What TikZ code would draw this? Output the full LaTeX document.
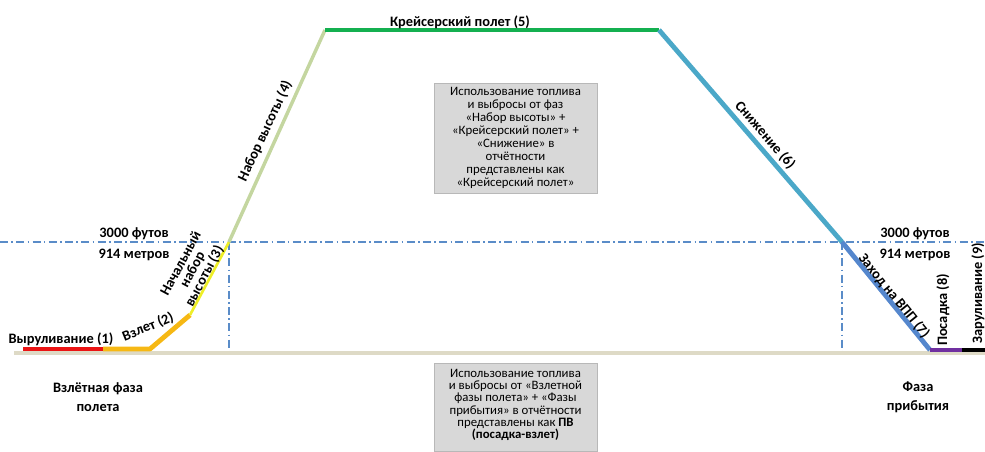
\documentclass[tikz,border=0pt]{standalone}
\usepackage{fontspec}
\setmainfont{Carlito}
\definecolor{taxired}{RGB}{235,20,20}
\definecolor{takeofforange}{RGB}{246,184,20}
\definecolor{climbyellow}{RGB}{238,238,40}
\definecolor{climbgreen}{RGB}{196,214,160}
\definecolor{cruisegreen}{RGB}{20,176,80}
\definecolor{descentblue}{RGB}{75,168,200}
\definecolor{approachblue}{RGB}{85,135,205}
\definecolor{landpurple}{RGB}{112,48,160}
\definecolor{groundbeige}{RGB}{222,218,198}
\definecolor{levelblue}{RGB}{90,140,200}
\definecolor{boxgray}{RGB}{216,216,216}
\tikzset{
  phase/.style={line width=3.6pt},
  level/.style={levelblue, line width=0.8pt, dash pattern=on 6pt off 2.5pt on 1.2pt off 2.5pt},
  lbl/.style={font=\fontsize{10.8}{11}\selectfont\bfseries, inner sep=0pt, align=center},
  notebox/.style={fill=boxgray, draw=boxgray!85!black, line width=0.3pt, inner sep=0pt},
  notetext/.style={font=\fontsize{9.6}{9.75}\selectfont, align=center, inner sep=0pt}
}
\begin{document}
\begin{tikzpicture}[x=0.75pt,y=-0.75pt]
  \useasboundingbox (0,0) rectangle (985,452);
  % profile points
  \draw
    (14,353) coordinate (g0)
    (985,353) coordinate (g1)
    (23,349) coordinate (p0)
    (103,349) coordinate (p1)
    (150,349) coordinate (p2)
    (190,315) coordinate (p3)
    (229,242) coordinate (p4)
    (325,30) coordinate (p5)
    (659,30) coordinate (p6)
    (842,242) coordinate (p7)
    (930,350) coordinate (p8)
    (962,350) coordinate (p9)
    (985,350) coordinate (p10)
    (0,242) coordinate (hl)
    (985,242) coordinate (hr)
    (229,353) coordinate (v4)
    (842,353) coordinate (v7);
  % levels
  \begin{scope}[level]
    \draw (hl) to (hr);
    \draw (p4) to (v4);
    \draw (p7) to (v7);
  \end{scope}
  \draw[groundbeige, line width=3.2pt] (g0) to (g1);
  % phases
  \begin{scope}[phase]
    \draw[taxired] (p0) to (p1);
    \draw[takeofforange, line join=round] (p1) -- (p2) -- (p3);
    \draw[climbyellow, line width=2pt] (p3) to (p4);
    \draw[climbgreen, line width=2.6pt] (p4) to (p5);
    \draw[cruisegreen] (p5) to (p6);
    \draw[descentblue] (p6) to (p7);
    \draw[approachblue] (p7) to (p8);
    \draw[landpurple] (p8) to (p9);
    \draw[black] (p9) to (p10);
  \end{scope}
  % labels
  \node[lbl] (taxiout) at (61,339) {Выруливание (1)};
  \node[lbl, rotate=22] (takeoff) at (148,327) {Взлет (2)};
  \node[lbl, rotate=62, font=\fontsize{10.8}{10}\selectfont\bfseries] (initclimb) at (193,270) {Начальный\\набор\\высоты (3)};
  \node[lbl, rotate=65] (climb) at (265,131) {Набор высоты (4)};
  \node[lbl] (cruise) at (460,22) {Крейсерский полет (5)};
  \node[lbl, rotate=-49] (descent) at (765,135) {Снижение (6)};
  \node[lbl, rotate=-51] (approach) at (894,296) {Заход на ВПП (7)};
  \node[lbl, rotate=90] (landing) at (943,310) {Посадка (8)};
  \node[lbl, rotate=90] (taxiin) at (978,293) {Заруливание (9)};
  \node[lbl] (ftleft) at (134,234) {3000 футов};
  \node[lbl] (mleft) at (134,255) {914 метров};
  \node[lbl] (ftright) at (915,234) {3000 футов};
  \node[lbl] (mright) at (915,255) {914 метров};
  \node[lbl, font=\fontsize{10.8}{14}\selectfont\bfseries] (depphase) at (98,397) {Взлётная фаза\\полета};
  \node[lbl, font=\fontsize{10.8}{14}\selectfont\bfseries] (arrphase) at (918,397) {Фаза\\прибытия};
  % notes
  \node[notebox, minimum width=163*0.75pt, minimum height=110*0.75pt] (cruisebox) at (515.5,138) {};
  \node[notetext] (cruisenote) at (cruisebox) {Использование топлива\\и выбросы от фаз\\«Набор высоты» +\\«Крейсерский полет» +\\«Снижение» в\\отчётности\\представлены как\\«Крейсерский полет»};
  \node[notebox, minimum width=163*0.75pt, minimum height=88*0.75pt] (ltobox) at (515.5,407) {};
  \node[notetext, font=\fontsize{9.6}{9.2}\selectfont] (ltonote) at (515.5,405) {Использование топлива\\и выбросы от «Взлетной\\фазы полета» + «Фазы\\прибытия» в отчётности\\представлены как \textbf{ПВ}\\\textbf{(посадка-взлет)}};
\end{tikzpicture}
\end{document}
